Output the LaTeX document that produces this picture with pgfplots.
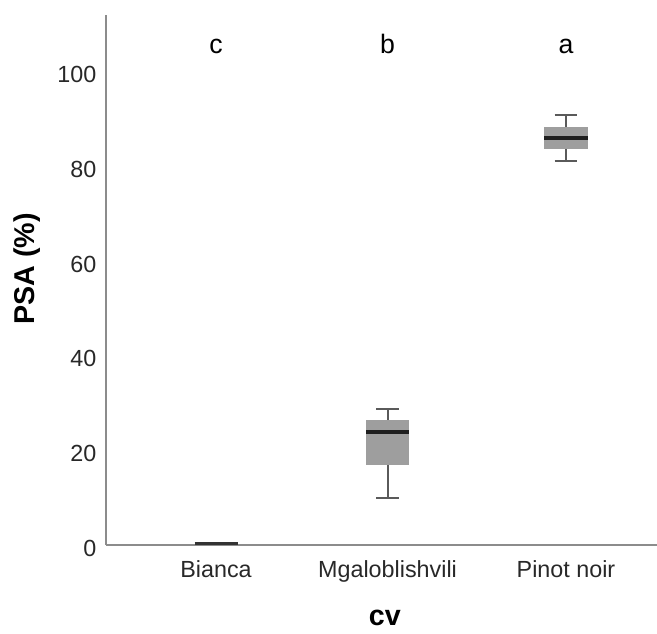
\documentclass[border=0pt]{standalone}
\usepackage{fontspec}
\setmainfont{Liberation Sans}
\usepackage{pgfplots}
\pgfplotsset{compat=1.18}
\definecolor{axisgray}{RGB}{140,140,140}
\definecolor{boxgray}{RGB}{158,158,158}
\definecolor{whiskgray}{RGB}{90,90,90}
\definecolor{txt}{RGB}{40,40,40}
\begin{document}
\begin{tikzpicture}
\path[use as bounding box] (-79.5pt,-66pt) rectangle (413.25pt,408.75pt);
\begin{axis}[
  at={(0pt,0pt)}, anchor=south west,
  scale only axis,
  width=413.25pt, height=397.5pt,
  xmin=0.371, xmax=3.52,
  ymin=0, ymax=112,
  axis x line=bottom, axis y line=left,
  axis line style={-, draw=axisgray, line width=1pt},
  tick style={draw=none},
  major tick length=0pt,
  xtick={1,1.98,3},
  xticklabels={Bianca,Mgaloblishvili,Pinot noir},
  ytick={0,20,40,60,80,100},
  /pgf/number format/assume math mode=true,
  ticklabel style={font=\fontsize{17.5}{21}\selectfont, text=txt},
  xticklabel style={anchor=base, inner sep=0pt, yshift=-24pt},
  yticklabel style={anchor=east, inner sep=0pt, xshift=-7pt, yshift=-2.25pt},
  xlabel={\textbf{cv}},
  ylabel={\textbf{PSA (\%)}},
  label style={font=\fontsize{21.5}{25}\selectfont, text=black},
  xlabel style={at={(axis description cs:0.506,-0.138)}, anchor=center},
  ylabel style={at={(axis description cs:-0.1434,0.5208)}, anchor=center},
  clip=false,
  box/.style={fill=boxgray, draw=none},
  whisk/.style={draw=whiskgray, line width=1.5pt, mark=none},
  med/.style={draw=black!88, line width=2.9pt, mark=none},
]
% ---- Mgaloblishvili (position 1.98): lw 9.9, q1 16.9, med 23.9, q3 26.4, uw 28.8
\addplot[whisk] coordinates {(1.98,26.4) (1.98,28.8)};
\addplot[whisk] coordinates {(1.98,16.9) (1.98,9.9)};
\addplot[whisk] coordinates {(1.915,28.8) (2.045,28.8)};
\addplot[whisk] coordinates {(1.915,9.9) (2.045,9.9)};
\addplot[box] coordinates {(1.857,16.9) (2.103,16.9) (2.103,26.4) (1.857,26.4)} -- cycle;
\addplot[med] coordinates {(1.857,23.9) (2.103,23.9)};
% ---- Pinot noir (position 3): lw 81.2, q1 83.7, med 86.0, q3 88.4, uw 90.9
\addplot[whisk] coordinates {(3,88.4) (3,90.9)};
\addplot[whisk] coordinates {(3,83.7) (3,81.2)};
\addplot[whisk] coordinates {(2.935,90.9) (3.065,90.9)};
\addplot[whisk] coordinates {(2.935,81.2) (3.065,81.2)};
\addplot[box] coordinates {(2.877,83.7) (3.123,83.7) (3.123,88.4) (2.877,88.4)} -- cycle;
\addplot[med] coordinates {(2.877,86.0) (3.123,86.0)};
% ---- Bianca (position 1): all values ~0
\addplot[draw=black!80, line width=2.2pt, mark=none] coordinates {(0.877,0.3) (1.123,0.3)};
\node[anchor=base, inner sep=0pt, font=\fontsize{20}{24}\selectfont] at (axis cs:1,103.8) {c};
\node[anchor=base, inner sep=0pt, font=\fontsize{20}{24}\selectfont] at (axis cs:1.98,103.8) {b};
\node[anchor=base, inner sep=0pt, font=\fontsize{20}{24}\selectfont] at (axis cs:3,103.8) {a};
\end{axis}
\end{tikzpicture}
\end{document}
